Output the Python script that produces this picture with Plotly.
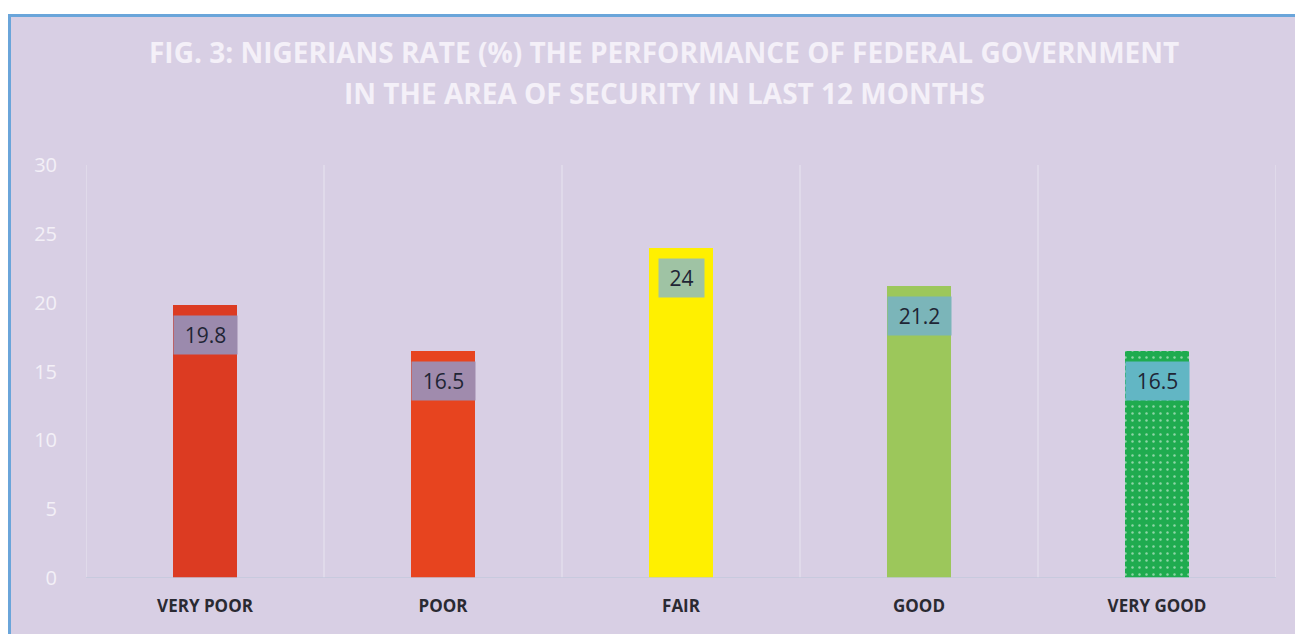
import plotly.graph_objects as go

categories = ["VERY POOR", "POOR", "FAIR", "GOOD", "VERY GOOD"]
values = [19.8, 16.5, 24, 21.2, 16.5]
bar_colors = ["#dc3b22", "#e7441f", "#fff000", "#9cc75b", "#1fab4f"]
label_bg = ["#9b8aad", "#a08bad", "#9fc3a4", "#7bb5b9", "#62b6c4"]
label_w = [61, 61, 43, 61, 61]
y_ticks = [0, 5, 10, 15, 20, 25, 30]
title_lines = ["FIG. 3: NIGERIANS RATE (%) THE PERFORMANCE OF FEDERAL GOVERNMENT",
               "IN THE AREA OF SECURITY IN LAST 12 MONTHS"]

# page body has an 8px margin; figure coords = reference coords - 8
W, H = 1303, 634
L, R, T, B = 78, 35, 157, 64
pw, ph = W - L - R, H - T - B

fig = go.Figure()
patterns = ["", "", "", "", "."]
fig.add_trace(go.Bar(
    x=categories, y=values, width=0.273,
    marker=dict(color=bar_colors, line=dict(width=0),
                pattern=dict(shape=patterns, fgcolor="#bfe8c9", size=7, solidity=0.1)),
    hoverinfo="skip",
))

def px_x(p):
    return (p - L) / pw
def px_y(p):
    return (H - B - p) / ph

shapes = []
shapes.append(dict(type="rect", xref="paper", yref="paper",
                   x0=px_x(1.5), x1=px_x(1340), y0=px_y(700), y1=px_y(7.5),
                   fillcolor="#d8cfe4", line=dict(color="#6aa5da", width=3), layer="below"))
for i in range(len(categories) + 1):
    shapes.append(dict(type="line", xref="x", yref="y", x0=i - 0.5, x1=i - 0.5,
                       y0=0, y1=30, line=dict(color="#e6e1ee", width=1.2), layer="below"))
shapes.append(dict(type="line", xref="x", yref="y", x0=-0.5, x1=4.5, y0=0, y1=0,
                   line=dict(color="#c3c9dd", width=1.5), layer="above"))

annotations = []
for i, (c, v) in enumerate(zip(categories, values)):
    annotations.append(dict(x=c, y=v, xref="x", yref="y", text=f"{v:g}",
                            showarrow=False, yanchor="top", yshift=-10,
                            font=dict(family="Open Sans", size=21, color="#1f2535"),
                            bgcolor=label_bg[i], width=label_w[i], height=36, borderpad=1))

title_y = [52 - 8, 93 - 8]
for txt, ty in zip(title_lines, title_y):
    annotations.append(dict(x=px_x(664 - 8), y=px_y(ty), xref="paper", yref="paper",
                            text=f"<b>{txt}</b>", showarrow=False,
                            xanchor="center", yanchor="middle",
                            font=dict(family="Open Sans", size=28, color="#f4f0f8")))

fig.update_layout(
    width=W, height=H,
    margin=dict(l=L, r=R, t=T, b=B),
    paper_bgcolor="white", plot_bgcolor="rgba(0,0,0,0)",
    showlegend=False,
    shapes=shapes, annotations=annotations,
    bargap=0,
)
fig.update_xaxes(range=[-0.5, 4.5], showgrid=False, showline=False, zeroline=False,
                 tickfont=dict(family="Open Sans", size=17, color="#2a2a32"),
                 ticks="", ticklabelstandoff=16, tickprefix="<b>", ticksuffix="</b>")
fig.update_yaxes(range=[0, 30], tickvals=y_ticks, showgrid=False, zeroline=False,
                 showline=False, ticks="", ticklabelstandoff=28,
                 tickfont=dict(family="Open Sans", size=20, color="#f3f0f7"))

fig.write_html("out.html")
